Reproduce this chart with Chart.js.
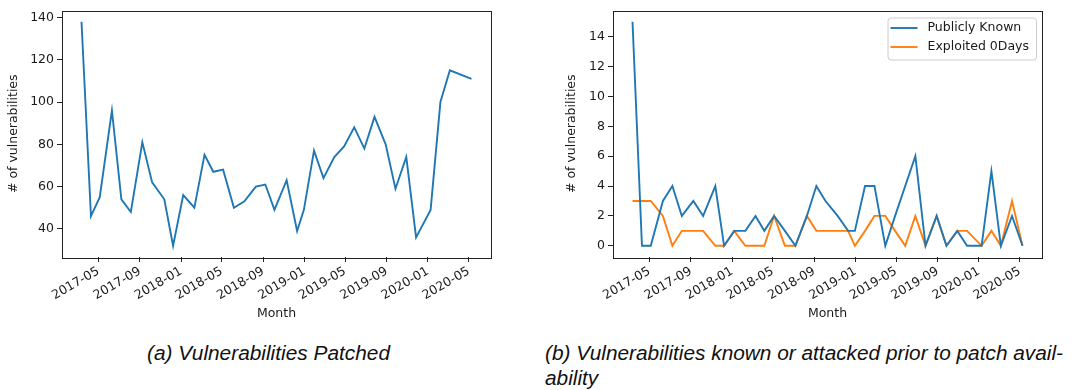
<!DOCTYPE html>
<html><head><meta charset="utf-8">
<script src="https://cdn.jsdelivr.net/npm/chart.js@4.4.1/dist/chart.umd.min.js"></script>
<style>
html,body{margin:0;padding:0;background:#fff;width:1073px;height:390px;overflow:hidden;}
.wrap{position:absolute;top:0;}
.cap{position:absolute;font-family:"Liberation Sans",Arial,sans-serif;font-style:italic;font-size:20.5px;line-height:20.5px;color:#111;white-space:nowrap;transform-origin:0 0;}
</style></head><body>
<div class="wrap" style="left:0;width:530px;height:330px"><canvas id="c1" width="530" height="330"></canvas></div>
<div class="wrap" style="left:550px;width:523px;height:330px"><canvas id="c2" width="523" height="330"></canvas></div>
<div class="cap" id="capA" style="left:147px;top:342.6px">(a) Vulnerabilities Patched</div>
<div class="cap" id="capB1" style="left:545px;top:342.6px">(b) Vulnerabilities known or attacked prior to patch avail-</div>
<div class="cap" id="capB2" style="left:545px;top:367.6px">ability</div>
<script>
// ---- data ----
const releaseDates = [
 '2017-03-12','2017-04-09','2017-05-05','2017-06-10','2017-07-08','2017-08-05','2017-09-08','2017-10-07',
 '2017-11-12','2017-12-08','2018-01-07','2018-02-09','2018-03-11','2018-04-06','2018-05-05','2018-06-06',
 '2018-07-07','2018-08-10','2018-09-07','2018-10-04','2018-11-09','2018-12-10','2018-12-30','2019-01-29',
 '2019-02-26','2019-03-30','2019-04-28','2019-05-28','2019-06-27','2019-07-27','2019-08-29','2019-09-27',
 '2019-10-29','2019-11-27','2020-01-09','2020-02-07','2020-03-06','2020-04-08','2020-05-09'
];
const patched = [138,46,55,96,54,48,81,62,54,32,56,50,75,67,68,50,53,60,61,49,63,39,49,77,64,74,79,88,78,93,80,59,74,36,49,100,115,null,111];
const publiclyKnown = [15,0,0,3,4,2,3,2,4,0,1,1,2,1,2,1,0,2,4,3,2,1,1,4,4,0,2,4,6,0,2,0,1,0,0,5,0,2,0];
const exploited0Days = [3,3,3,2,0,1,1,1,0,0,1,0,0,0,2,0,0,2,1,1,1,1,0,1,2,2,1,0,2,0,2,0,1,1,0,1,0,3,0];
const xTickLabels = ['2017-05','2017-09','2018-01','2018-05','2018-09','2019-01','2019-05','2019-09','2020-01','2020-05'];
const leftYTicks = [40,60,80,100,120,140];
const rightYTicks = [0,2,4,6,8,10,12,14];
const seriesNames = ['Publicly Known','Exploited 0Days'];

// ---- helpers ----
const toMs = s => Date.parse(s.length === 7 ? s + '-01' : s);
const xVals = releaseDates.map(toMs);
const xTickVals = xTickLabels.map(toMs);
const pts = arr => arr.map((v,i)=>({x:xVals[i], y:v}));
const FONT = {family:'"DejaVu Sans", sans-serif', size:12.5};
const TXT = '#1a1a1a';
const BLUE = '#1f77b4', ORANGE = '#ff7f0e';

function margins(vals){
  const v = vals.filter(a=>a!==null);
  const mn = Math.min(...v), mx = Math.max(...v), r = mx-mn;
  return {min: mn - 0.05*r, max: mx + 0.05*r};
}
const xm = margins(xVals);

const framePlugin = {
  id:'frame',
  afterDraw(chart, args, opts){
    const {ctx, chartArea:a} = chart;
    ctx.save();
    ctx.strokeStyle = '#222'; ctx.lineWidth = 1;
    ctx.strokeRect(Math.round(a.left)+0.5, Math.round(a.top)+0.5, Math.round(a.right-a.left), Math.round(a.bottom-a.top));
    if (opts && opts.legend){
      ctx.font = '12.5px "DejaVu Sans", sans-serif';
      const ds = chart.data.datasets;
      const tw = Math.max(...ds.map(d=>ctx.measureText(d.label).width));
      const w = 3 + 27 + 10 + tw + 7, h = 42;
      const x = a.right - 6 - w, y = a.top + 7;
      ctx.fillStyle = 'rgba(255,255,255,0.8)';
      ctx.strokeStyle = '#cccccc'; ctx.lineWidth = 1;
      ctx.beginPath();
      if (ctx.roundRect) ctx.roundRect(x+0.5, y+0.5, w, h, 3); else ctx.rect(x+0.5,y+0.5,w,h);
      ctx.fill(); ctx.stroke();
      ds.forEach((d,i)=>{
        const cy = y + 10.5 + i*19;
        ctx.strokeStyle = d.borderColor; ctx.lineWidth = 1.9;
        ctx.beginPath(); ctx.moveTo(x+3, cy); ctx.lineTo(x+30, cy); ctx.stroke();
        ctx.fillStyle = TXT; ctx.textBaseline = 'middle'; ctx.textAlign = 'left';
        ctx.fillText(d.label, x+40, cy);
      });
    }
    ctx.restore();
  }
};

function makeChart(id, datasets, yTicks, yRange, yAxisW, padRight, yTitlePad, legend){
  return new Chart(document.getElementById(id), {
    type:'line',
    data:{datasets},
    plugins:[framePlugin],
    options:{
      responsive:false, animation:false, parsing:true,
      layout:{padding:{left:0, top:7, right:padRight, bottom:0}},
      plugins:{legend:{display:false}, tooltip:{enabled:false}, frame:{legend}},
      elements:{point:{radius:0}, line:{tension:0, borderWidth:1.9}},
      scales:{
        x:{
          type:'linear', min:xm.min, max:xm.max,
          afterBuildTicks: s => { s.ticks = xTickVals.map(v=>({value:v})); },
          afterFit: s => { s.height = 73; },
          ticks:{autoSkip:false, minRotation:30, maxRotation:30, padding:2, color:TXT, font:FONT,
                 callback:(v,i)=>xTickLabels[i]},
          grid:{display:true, drawOnChartArea:false, drawTicks:true, tickLength:5, color:'#222', tickColor:'#222'},
          border:{display:false},
          title:{display:true, text:'Month', color:TXT, font:FONT, padding:{top:0, bottom:8.5}}
        },
        y:{
          type:'linear', min:yRange.min, max:yRange.max,
          afterBuildTicks: s => { s.ticks = yTicks.map(v=>({value:v})); },
          afterFit: s => { s.width = yAxisW; },
          ticks:{padding:3, color:TXT, font:FONT},
          grid:{display:true, drawOnChartArea:false, drawTicks:true, tickLength:5, color:'#222', tickColor:'#222'},
          border:{display:false},
          title:{display:true, text:'# of vulnerabilities', color:TXT, font:FONT, padding:{top:yTitlePad, bottom:0}}
        }
      }
    }
  });
}

makeChart('c1',
  [{label:'Patched', data:pts(patched), borderColor:BLUE, spanGaps:true, fill:false}],
  leftYTicks, margins(patched), 62, 39, 6.4, false);

makeChart('c2',
  [{label:seriesNames[0], data:pts(publiclyKnown), borderColor:BLUE, fill:false},
   {label:seriesNames[1], data:pts(exploited0Days), borderColor:ORANGE, fill:false}],
  rightYTicks, margins(publiclyKnown.concat(exploited0Days)), 63, 31, 14, true);

// caption widths
function fit(el, target){ const w = el.getBoundingClientRect().width; el.style.transform = 'scaleX(' + (target/w) + ')'; return target/w; }
fit(document.getElementById('capA'), 243);
const sb = fit(document.getElementById('capB1'), 518);
document.getElementById('capB2').style.transform = 'scaleX(' + sb + ')';
</script>
</body></html>
